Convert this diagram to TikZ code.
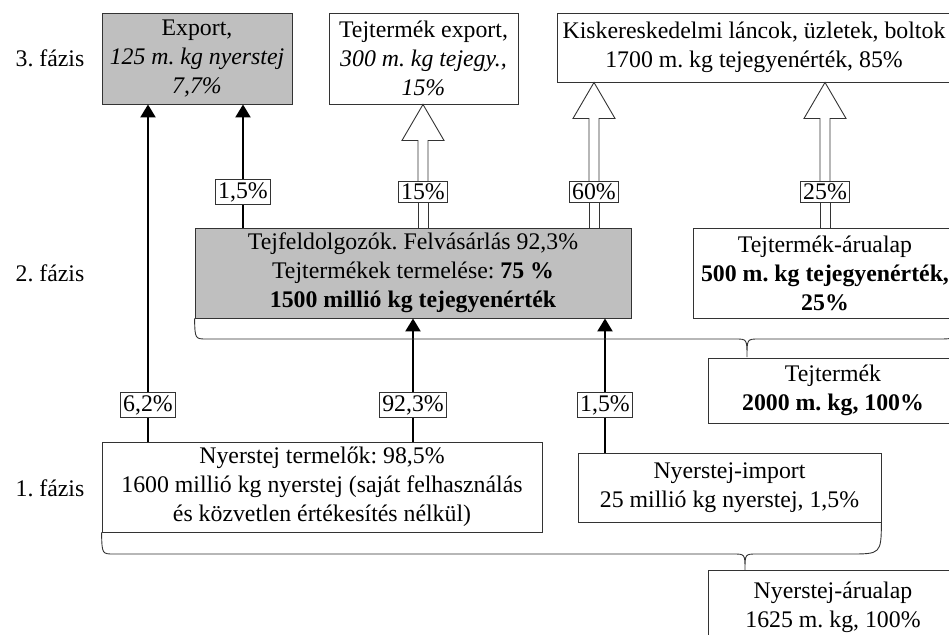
\documentclass[tikz,border=0pt]{standalone}
\usepackage{fontspec}
\setmainfont{Liberation Serif}
\usetikzlibrary{positioning,calc,arrows.meta}

% hollow arrow: label node, lower box, upper box
\newcommand{\fatarrow}[3]{%
  \draw[fat] ($(#1 |- #2.north)+(-5,0)$) -- ($(#1.south)+(-5,0)$)
             ($(#1 |- #2.north)+(5,0)$) -- ($(#1.south)+(5,0)$);
  \draw[fat] ($(#1.north)+(-5,0)$) -- ($(#1 |- #3.south)+(-5,36)$) -- ++(-16,0)
     -- (#1 |- #3.south) -- ($(#1 |- #3.south)+(21,36)$) -- ++(-16,0)
     -- ($(#1.north)+(5,0)$);}

\begin{document}
\begin{tikzpicture}[x=1pt, y=-1pt, node distance = 215pt,
    font=\fontsize{23.8}{29}\selectfont\frenchspacing,
    box/.style={draw=black!80, fill=white, align=center, inner sep=0pt, line width=0.9pt},
    greybox/.style={box, fill=black!25},
    pct/.style={draw=black!80, fill=white, inner sep=2.5pt, line width=0.9pt},
    fat/.style={draw=black!80, line width=0.9pt},
    arr/.style={line width=2.2pt, -{Triangle[length=13pt, width=15pt]}},
    phase/.style={inner sep=0pt}]
    \clip (0,0) rectangle (949,634);

    % 3. fazis
    \node (exp) [greybox, minimum width=190pt, minimum height=91pt] at (197,58.5)
        {Export,\\ \textit{125 m. kg nyerstej}\\ \textit{7,7\%}};
    \node (tex) [box, minimum width=189pt, minimum height=91pt] at (423.5,58.5)
        {Tejtermék export,\\ \textit{300 m. kg tejegy.,}\\ \textit{15\%}};
    \node (kis) [box, minimum width=394pt, minimum height=69pt] at (754,47.5)
        {Kiskereskedelmi láncok, üzletek, boltok\\ 1700 m. kg tejegyenérték, 85\%};

    % 2. fazis
    \node (tf) [greybox, minimum width=436pt, minimum height=90pt] at (413,273)
        {Tejfeldolgozók. Felvásárlás 92,3\%\\ Tejtermékek termelése: \textbf{75 \%}\\
         \textbf{1500 millió kg tejegyenérték}};
    \node (tta) [box, minimum width=264pt, minimum height=90pt] at (825,273)
        {Tejtermék-árualap\\ \textbf{500 m. kg tejegyenérték,}\\ \textbf{25\%}};
    \node (tt) [box, minimum width=250pt, minimum height=65pt] at (833,390.5)
        {Tejtermék\\ \textbf{2000 m. kg, 100\%}};

    % 1. fazis
    \node (prod) [box, minimum width=440pt, minimum height=90pt] at (322,487)
        {Nyerstej termelők: 98,5\%\\ 1600 millió kg nyerstej (saját felhasználás\\
         és közvetlen értékesítés nélkül)};
    \node (imp) [box, minimum width=303pt, minimum height=69pt] at (729.5,487.5)
        {Nyerstej-import\\ 25 millió kg nyerstej, 1,5\%};
    \node (nya) [box, minimum width=250pt, minimum height=74pt] at (833,607)
        {Nyerstej-árualap\\ 1625 m. kg, 100\%};

    \node (f3) [phase, left = 17pt of exp] {3. fázis};
    \node (f2) [phase, below of = f3] {2. fázis};
    \node (f1) [phase, below of = f2] {1. fázis};

    % percentages
    \node (p62) [pct] at (148,405) {6,2\%};
    \node (p923) [pct] at (413,405) {92,3\%};
    \node (p15i) [pct] at (605,405) {1,5\%};
    \node (p15e) [pct] at (243,192) {1,5\%};
    \node (p15) [pct] at (423,192) {15\%};
    \node (p60) [pct] at (594,192) {60\%};
    \node (p25) [pct] at (825,192) {25\%};

    \draw[line width=2.2pt] (p62 |- prod.north) -- (p62.south);
    \draw[arr] (p62.north) -- (p62 |- exp.south);
    \draw[line width=2.2pt] (p15e |- tf.north) -- (p15e.south);
    \draw[arr] (p15e.north) -- (p15e |- exp.south);
    \draw[line width=2.2pt] (p923 |- prod.north) -- (p923.south);
    \draw[arr] (p923.north) -- (p923 |- tf.south);
    \draw[line width=2.2pt] (p15i |- imp.north) -- (p15i.south);
    \draw[arr] (p15i.north) -- (p15i |- tf.south);

    \fatarrow{p15}{tf}{tex}
    \fatarrow{p60}{tf}{kis}
    \fatarrow{p25}{tta}{kis}

    % braces
    \draw[fat] (tf.south west) .. controls (195,339) .. (207,339) -- (735,339)
        .. controls (747,339) .. (747,357) .. controls (747,339) .. (759,339)
        -- (937,339) .. controls (957,339) .. (tta.south east);
    \draw[fat] (prod.south west) .. controls (102,554) .. (114,554) -- (733,554)
        .. controls (745,554) .. (745,570) .. controls (745,554) .. (757,554)
        -- (849,554) .. controls (881,554) .. (imp.south east);
\end{tikzpicture}
\end{document}
